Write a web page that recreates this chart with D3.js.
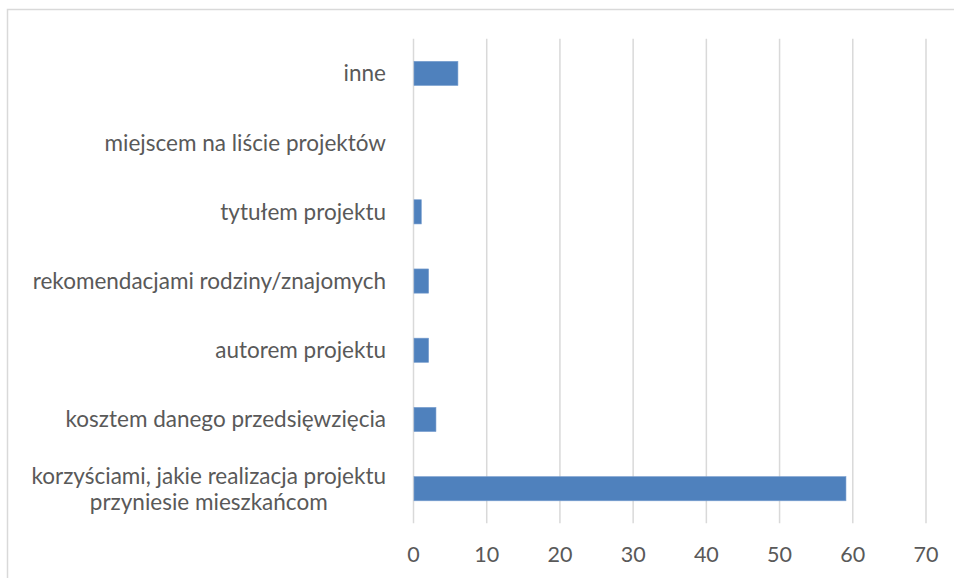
<!DOCTYPE html>
<html>
<head>
<meta charset="utf-8">
<script src="https://cdn.jsdelivr.net/npm/d3@7"></script>
<style>
  body { margin: 0; background: #fff; }
  text { font-family: Lato, "Open Sans", sans-serif; fill: #595959; }
</style>
</head>
<body>
<div id="chart"></div>
<script>
// categories top to bottom
const categories = [
    "inne",
    "miejscem na liście projektów",
    "tytułem projektu",
    "rekomendacjami rodziny/znajomych",
    "autorem projektu",
    "kosztem danego przedsięwzięcia",
    "korzyściami, jakie realizacja projektu\nprzyniesie mieszkańcom"
];
const values = [6, 0, 1, 2, 2, 3, 59];
const xTicks = [0, 10, 20, 30, 40, 50, 60, 70];

const width = 954, height = 578;
const svg = d3.select("#chart").append("svg")
    .attr("width", width)
    .attr("height", height);

// chart frame
svg.append("rect")
    .attr("x", 7.5).attr("y", 9.5)
    .attr("width", 960).attr("height", 600)
    .attr("fill", "none")
    .attr("stroke", "#d9d9d9")
    .attr("stroke-width", 1.5);

const plot = { left: 413.5, right: 926, top: 38.8, bottom: 523.3 };

var x = d3.scaleLinear()
    .domain([0, 70])
    .range([plot.left, plot.right]);

var y = d3.scaleBand()
    .domain(categories)
    .range([plot.top, plot.bottom])
    .paddingInner(0.65)
    .paddingOuter(0.325);

// gridlines
svg.append("g")
    .selectAll("line")
    .data(xTicks)
    .join("line")
    .attr("x1", d => x(d)).attr("x2", d => x(d))
    .attr("y1", plot.top).attr("y2", plot.bottom)
    .attr("stroke", "#d9d9d9")
    .attr("stroke-width", 1.5);

// bars
svg.append("g")
    .selectAll("rect")
    .data(values)
    .join("rect")
    .attr("x", x(0) + 0.5)
    .attr("y", (d, i) => y(categories[i]))
    .attr("width", d => Math.max(0, x(d) - x(0)))
    .attr("height", y.bandwidth())
    .attr("fill", "#4f81bd")
    .attr("stroke", d => d > 0 ? "#7ba0d0" : "none")
    .attr("stroke-width", 0.6);

// x tick labels
svg.append("g")
    .selectAll("text")
    .data(xTicks)
    .join("text")
    .attr("x", d => x(d))
    .attr("y", 557)
    .attr("text-anchor", "middle")
    .attr("dominant-baseline", "middle")
    .style("font-size", "21.5px")
    .text(d => d);

// category labels, wrapped lines centred on each other
const labelRight = 386;
categories.forEach(cat => {
    const lines = cat.split("\n");
    const cy = y(cat) + y.bandwidth() / 2 + 2;
    const lh = 26;
    const t = svg.append("text")
        .attr("text-anchor", lines.length > 1 ? "middle" : "end")
        .attr("dominant-baseline", "middle")
        .style("font-size", "22.5px");
    lines.forEach((ln, k) => {
        t.append("tspan")
            .attr("x", labelRight)
            .attr("y", cy + (k - (lines.length - 1) / 2) * lh)
            .text(ln);
    });
    if (lines.length > 1) {
        // centre the block so its widest line ends at labelRight
        const w = d3.max(t.selectAll("tspan").nodes(), n => n.getComputedTextLength());
        t.selectAll("tspan").attr("x", labelRight - w / 2);
    }
});
</script>
</body>
</html>
